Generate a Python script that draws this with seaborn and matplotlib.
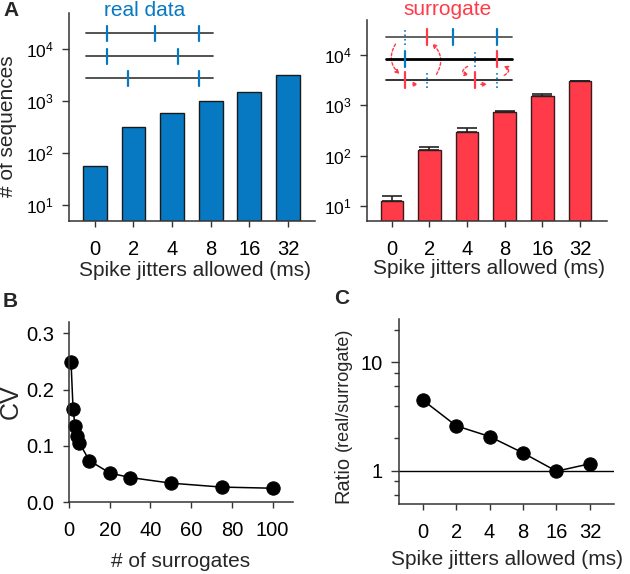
import numpy as np
import pandas as pd
import matplotlib
matplotlib.use("Agg")
import matplotlib.pyplot as plt
import seaborn as sns
from matplotlib.patches import FancyArrowPatch
from matplotlib.ticker import FixedLocator, NullFormatter, NullLocator

# ---------------- data ----------------
jitter_labels = ["0", "2", "4", "8", "16", "32"]
real_counts = [56, 326, 603, 1020, 1480, 3240]
surr_counts = [12.6, 128, 300, 730, 1520, 3020]
surr_err_up = [3.4, 20, 47, 50, 130, 80]
n_surrogates = [1, 2, 3, 4, 5, 10, 20, 30, 50, 75, 100]
cv_values = [0.249, 0.165, 0.135, 0.117, 0.106, 0.074, 0.052, 0.044, 0.034, 0.027, 0.025]
ratio_values = [4.5, 2.6, 2.07, 1.46, 0.99, 1.16]

BLUE = "#0679C2"
RED = "#FF3B49"
AX_COL = "#333333"

sns.set_theme(style="ticks")
plt.rcParams["font.family"] = ["Liberation Sans", "DejaVu Sans"]
plt.rcParams["axes.edgecolor"] = AX_COL
plt.rcParams["axes.linewidth"] = 1.1
plt.rcParams["xtick.color"] = AX_COL
plt.rcParams["ytick.color"] = AX_COL
plt.rcParams["xtick.labelcolor"] = "black"
plt.rcParams["ytick.labelcolor"] = "black"

W, H = 630, 574
fig = plt.figure(figsize=(W / 100, H / 100), dpi=100)


def axes_px(x0, y0, x1, y1):
    return fig.add_axes([x0 / W, 1 - y1 / H, (x1 - x0) / W, (y1 - y0) / H])


axA1 = axes_px(69, 13, 315, 221)
axA2 = axes_px(367, 20, 607, 221)
axB = axes_px(69, 322, 293, 502.3)
axC = axes_px(399.3, 319.3, 614, 504.3)

LAB = 15
TICK = 14.5
LOGTICK = 12.5


def style(ax):
    sns.despine(ax=ax)
    ax.tick_params(axis="both", direction="out", length=4.5, width=1.0, pad=6, labelsize=TICK)


# ---------- Panel A (real) ----------
dfA1 = pd.DataFrame({"jitter": jitter_labels, "count": real_counts})
axA1.set_yscale("log")
sns.barplot(data=dfA1, x="jitter", y="count", color=BLUE, saturation=1, width=0.62,
            edgecolor="#1a1a1a", linewidth=1.0, errorbar=None, ax=axA1)
axA1.set_ylim(5, 5e4)
axA1.set_xlim(-0.67, 5.7)
style(axA1)
axA1.yaxis.set_major_locator(FixedLocator([10, 100, 1000, 10000]))
axA1.yaxis.set_minor_locator(NullLocator())
axA1.tick_params(axis="y", labelsize=LOGTICK, length=5, pad=6)
axA1.tick_params(axis="x", pad=9)
axA1.set_xlabel("Spike jitters allowed (ms)", fontsize=LAB)
axA1.set_ylabel("# of sequences", fontsize=LAB)
axA1.xaxis.label.set_va("center")
axA1.yaxis.label.set_va("center")
axA1.xaxis.set_label_coords(0.512, -0.236)
axA1.yaxis.set_label_coords(-0.248, 0.457)

# inset schematic (real data)
tA = axA1.transAxes
for yy in [0.902, 0.792, 0.686]:
    axA1.plot([0.068, 0.587], [yy, yy], color="#444444", lw=1.3, transform=tA, clip_on=False)
real_ticks = [(0.902, [0.153, 0.35, 0.530]), (0.792, [0.153, 0.444]), (0.686, [0.241, 0.530])]
for yy, xs in real_ticks:
    for xx in xs:
        axA1.plot([xx, xx], [yy - 0.036, yy + 0.036], color=BLUE, lw=1.6, transform=tA, clip_on=False)
axA1.text(0.309, 1.014, "real data", color=BLUE, fontsize=LAB, ha="center", va="center", transform=tA)

# ---------- Panel A (surrogate) ----------
dfA2 = pd.DataFrame({"jitter": jitter_labels, "count": surr_counts, "err": surr_err_up})
axA2.set_yscale("log")
sns.barplot(data=dfA2, x="jitter", y="count", color=RED, saturation=1, width=0.6,
            edgecolor="#3a1a1a", linewidth=1.0, errorbar=None, ax=axA2)
axA2.errorbar(x=np.arange(len(jitter_labels)), y=dfA2["count"],
              yerr=[np.zeros(len(jitter_labels)), dfA2["err"]], fmt="none",
              ecolor="#222222", elinewidth=1.2, capsize=7, capthick=1.2)
axA2.set_ylim(5, 5e4)
axA2.set_xlim(-0.66, 5.72)
style(axA2)
axA2.yaxis.set_major_locator(FixedLocator([10, 100, 1000, 10000]))
axA2.yaxis.set_minor_locator(NullLocator())
axA2.tick_params(axis="y", labelsize=LOGTICK, length=5, pad=6)
axA2.tick_params(axis="x", pad=9)
axA2.set_xlabel("Spike jitters allowed (ms)", fontsize=LAB)
axA2.set_ylabel("")
axA2.xaxis.label.set_va("center")
axA2.xaxis.set_label_coords(0.508, -0.234)

# inset schematic (surrogate)
tS = axA2.transAxes
for yy, c, lw in [(0.917, "#555555", 1.3), (0.806, "black", 2.0), (0.700, "#222222", 1.3)]:
    axA2.plot([0.079, 0.605], [yy, yy], color=c, lw=lw, transform=tS, clip_on=False)
h = 0.04
surr_marks = [
    (0.917, [(0.158, BLUE, ":"), (0.25, RED, "-"), (0.357, BLUE, "-"), (0.542, BLUE, "-")]),
    (0.806, [(0.158, BLUE, "-"), (0.448, BLUE, ":"), (0.542, RED, "-")]),
    (0.700, [(0.158, RED, "-"), (0.25, BLUE, ":"), (0.448, RED, "-"), (0.542, BLUE, ":")]),
]
for yy, marks in surr_marks:
    for xx, c, ls in marks:
        axA2.plot([xx, xx], [yy - h, yy + h], color=c, lw=1.6 if ls == "-" else 1.2,
                  ls=ls, transform=tS, clip_on=False)


def ax_frac(px, py):
    return ((px - 367) / 240, (221 - py) / 201)


arrow_specs = [
    ((397, 41.7), (401.7, 76), 0.45),
    ((435, 76.7), (430, 41.7), 0.45),
    ((470, 65), (471.7, 75.5), 1.5),
    ((501.7, 76.7), (501, 65), 1.2),
    ((410, 84.3), (421, 84.3), 0.0),
    ((478, 84.3), (490, 84.3), 0.0),
]
for p0, p1, rad in arrow_specs:
    arr = FancyArrowPatch(ax_frac(*p0), ax_frac(*p1), transform=tS,
                          connectionstyle=f"arc3,rad={rad}", arrowstyle="-|>",
                          mutation_scale=6, color=RED, lw=1.0, ls=(0, (2, 1.5)),
                          clip_on=False)
    axA2.add_patch(arr)
axA2.text(0.3375, 1.05, "surrogate", color=RED, fontsize=LAB, ha="center", va="center", transform=tS)

# ---------- Panel B ----------
dfB = pd.DataFrame({"n": n_surrogates, "cv": cv_values})
sns.lineplot(data=dfB, x="n", y="cv", marker="o", markersize=9.6, color="black",
             markeredgecolor="black", linewidth=1.1, ax=axB, clip_on=False)
axB.set_xlim(0, 110)
axB.set_ylim(0, 0.32)
style(axB)
axB.set_xticks([0, 20, 40, 60, 80, 100])
axB.set_yticks([0.0, 0.1, 0.2, 0.3])
axB.set_yticklabels(["0.0", "0.1", "0.2", "0.3"])
axB.tick_params(axis="x", pad=9)
axB.set_xlabel("# of surrogates", fontsize=LAB)
axB.set_ylabel("CV", fontsize=18)
axB.xaxis.label.set_va("center")
axB.yaxis.label.set_va("center")
axB.xaxis.set_label_coords(0.499, -0.329)
axB.yaxis.set_label_coords(-0.259, 0.56)

# ---------- Panel C ----------
dfC = pd.DataFrame({"pos": np.arange(len(jitter_labels)), "ratio": ratio_values})
axC.set_yscale("log")
axC.axhline(1, color="black", lw=1.0, zorder=1)
sns.lineplot(data=dfC, x="pos", y="ratio", marker="o", markersize=9.6, color="black",
             markeredgecolor="black", linewidth=1.1, ax=axC, zorder=3)
axC.set_ylim(0.49, 25)
axC.set_xlim(-0.7, 5.72)
style(axC)
axC.yaxis.set_major_locator(FixedLocator([1, 10]))
axC.set_yticklabels(["1", "10"])
axC.yaxis.set_minor_locator(FixedLocator([0.6, 0.8, 2, 4, 6, 8, 20]))
axC.yaxis.set_minor_formatter(NullFormatter())
axC.tick_params(axis="y", which="major", length=6)
axC.tick_params(axis="y", which="minor", length=3.5, width=1.0, color=AX_COL)
axC.set_xticks(np.arange(len(jitter_labels)))
axC.set_xticklabels(jitter_labels)
axC.tick_params(axis="x", pad=9)
axC.set_xlabel("Spike jitters allowed (ms)", fontsize=LAB)
axC.set_ylabel("")
axC.xaxis.label.set_va("center")
axC.xaxis.set_label_coords(0.50, -0.30)
fig.text(343 / W, 1 - 503 / H, "Ratio", rotation=90, rotation_mode="anchor",
         ha="left", va="center", fontsize=14.5)
fig.text(343 / W, 1 - 451 / H, "(real/surrogate)", rotation=90, rotation_mode="anchor",
         ha="left", va="center", fontsize=13)

# panel letters
for lbl, xp, yp in [("A", 3, 1), ("B", 3, 292), ("C", 334, 289)]:
    fig.text(xp / W, 1 - yp / H, lbl, fontsize=15, fontweight="bold", ha="left", va="top")

fig.savefig("out.png", dpi=100)
